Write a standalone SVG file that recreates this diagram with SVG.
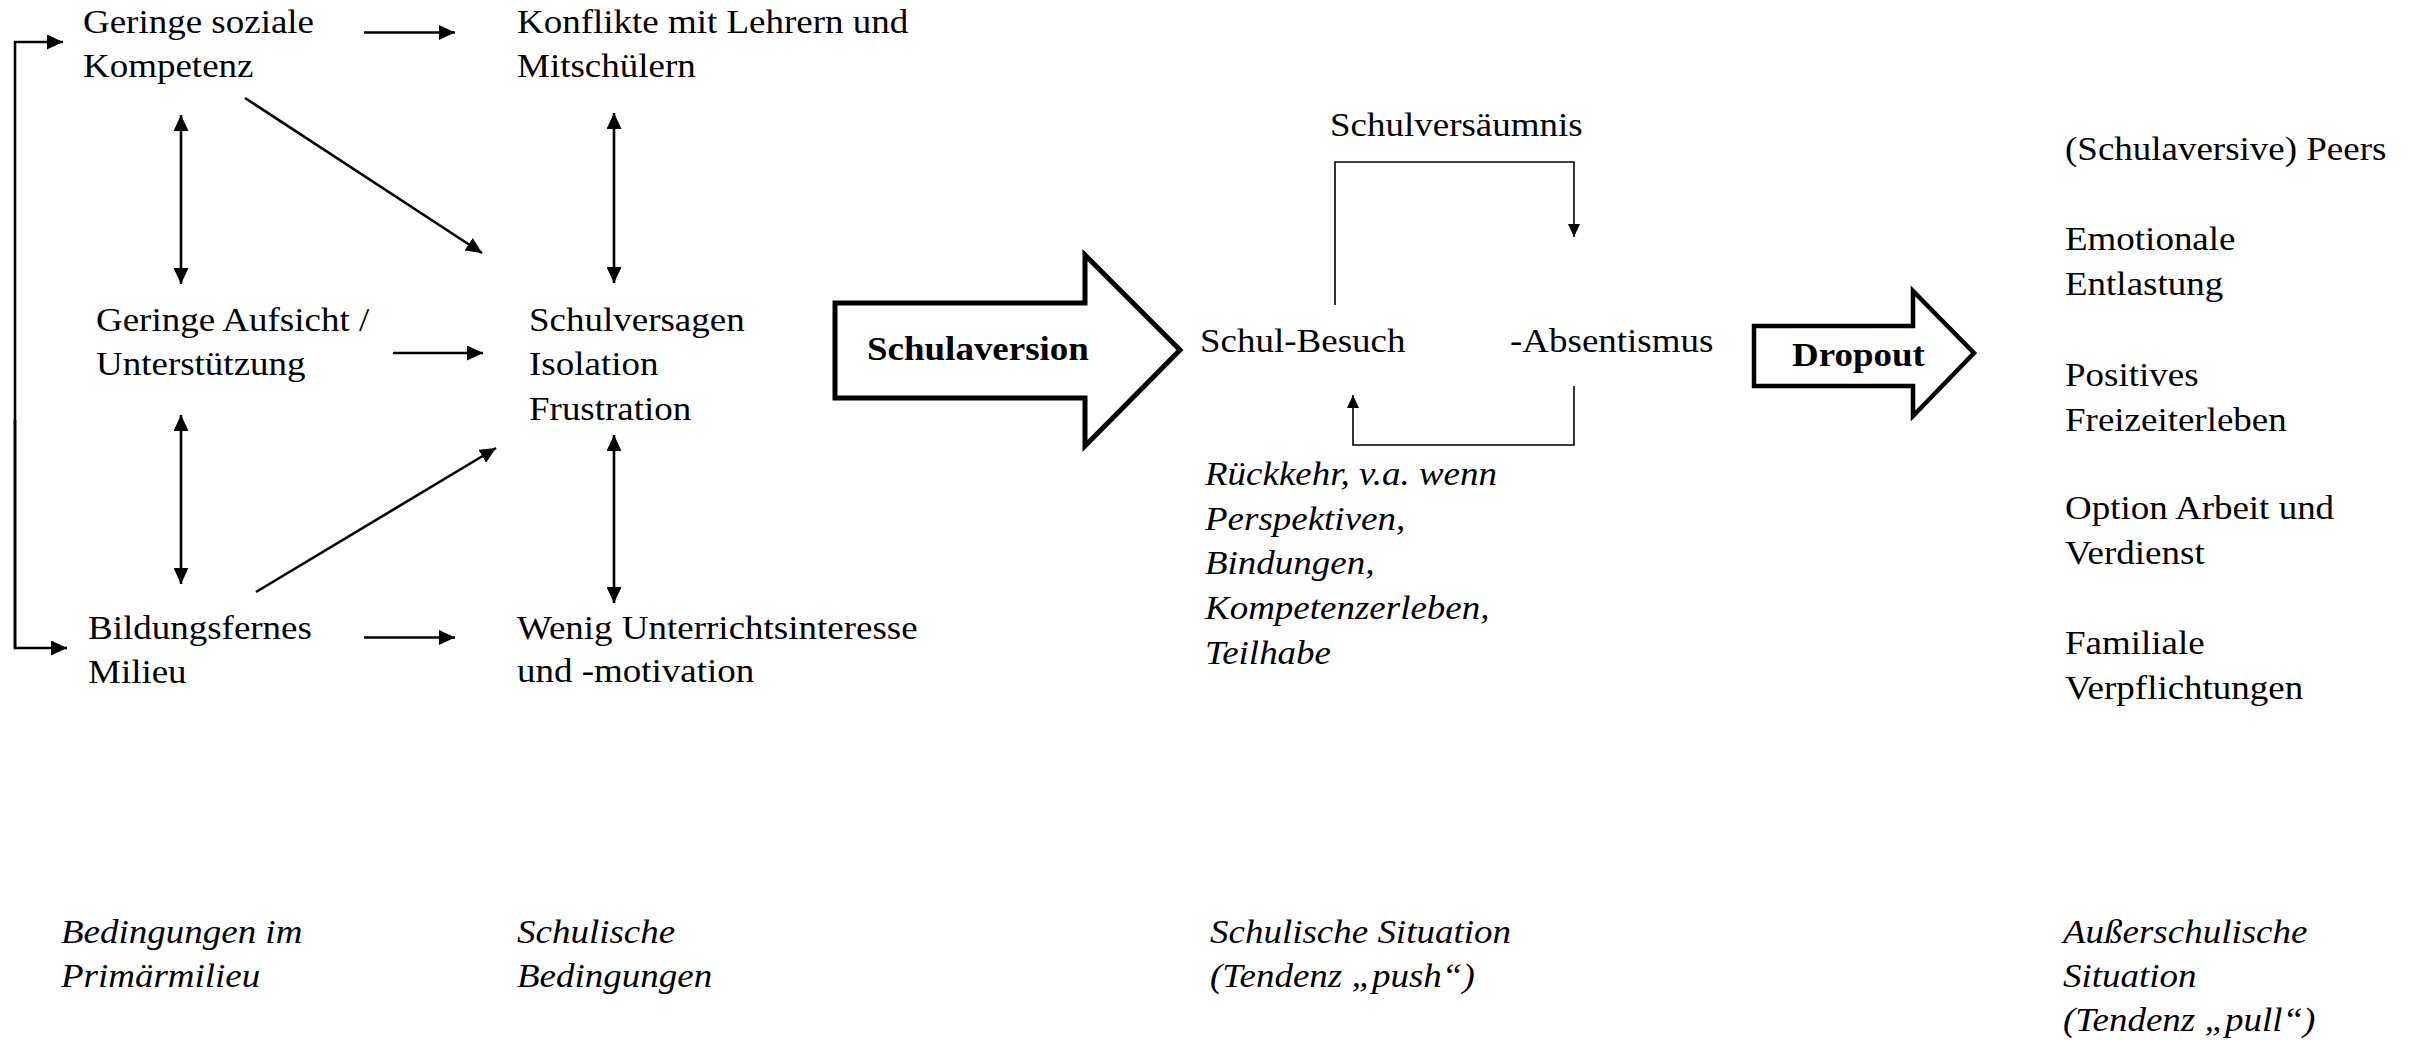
<svg xmlns="http://www.w3.org/2000/svg" width="2420" height="1040" viewBox="0 0 2420 1040">
<style>
  text { font-family: "Liberation Serif", "Times New Roman", serif; font-size: 34px; fill: #000; }
  .b { font-weight: bold; }
  .i { font-style: italic; }
  .ln { stroke: #000; stroke-width: 2.6; fill: none; }
  .thin { stroke: #000; stroke-width: 1.6; fill: none; }
  .big { stroke: #000; stroke-width: 5; fill: #fff; stroke-linejoin: miter; }
</style>
<defs>
  <marker id="ah" markerUnits="userSpaceOnUse" markerWidth="17" markerHeight="15" refX="16" refY="7.5" orient="auto-start-reverse">
    <path d="M0,0 L16,7.5 L0,15 z" fill="#000"/>
  </marker>
  <marker id="ahs" markerUnits="userSpaceOnUse" markerWidth="14" markerHeight="12" refX="13" refY="6" orient="auto-start-reverse">
    <path d="M0,0 L13,6 L0,12 z" fill="#000"/>
  </marker>
</defs>
<rect width="2420" height="1040" fill="#fff"/>

<g id="connectors">
  <path class="ln" d="M15,648 L15,42 L63,42" marker-end="url(#ah)"/>
  <path class="ln" d="M15,420 L15,648 L67,648" marker-end="url(#ah)"/>
  <line class="ln" x1="364" y1="32.5" x2="455" y2="32.5" marker-end="url(#ah)"/>
  <line class="ln" x1="245" y1="98" x2="482" y2="253" marker-end="url(#ah)"/>
  <line class="ln" x1="181" y1="115" x2="181" y2="284" marker-start="url(#ah)" marker-end="url(#ah)"/>
  <line class="ln" x1="614" y1="113" x2="614" y2="283" marker-start="url(#ah)" marker-end="url(#ah)"/>
  <line class="ln" x1="393" y1="353" x2="483" y2="353" marker-end="url(#ah)"/>
  <line class="ln" x1="181" y1="415" x2="181" y2="584" marker-start="url(#ah)" marker-end="url(#ah)"/>
  <line class="ln" x1="614" y1="435" x2="614" y2="603" marker-start="url(#ah)" marker-end="url(#ah)"/>
  <line class="ln" x1="256" y1="592" x2="496" y2="448" marker-end="url(#ah)"/>
  <line class="ln" x1="364" y1="637.5" x2="455" y2="637.5" marker-end="url(#ah)"/>
  <path class="thin" d="M1335,305 L1335,162 L1574,162 L1574,237" marker-end="url(#ahs)"/>
  <path class="thin" d="M1574,386 L1574,445 L1353,445 L1353,395" marker-end="url(#ahs)"/>
</g>

<g id="n1"><text transform="matrix(1.088 0 0 1 83 33)"><tspan x="0" y="0">Geringe soziale</tspan><tspan x="0" y="44.5">Kompetenz</tspan></text></g>
<g id="n2"><text transform="matrix(1.088 0 0 1 517 33)"><tspan x="0" y="0">Konflikte mit Lehrern und</tspan><tspan x="0" y="44.5">Mitschülern</tspan></text></g>
<g id="n3"><text transform="matrix(1.088 0 0 1 96 331)"><tspan x="0" y="0">Geringe Aufsicht /</tspan><tspan x="0" y="44.5">Unterstützung</tspan></text></g>
<g id="n4"><text transform="matrix(1.088 0 0 1 529 331)"><tspan x="0" y="0">Schulversagen</tspan><tspan x="0" y="44.5">Isolation</tspan><tspan x="0" y="89">Frustration</tspan></text></g>
<g id="n5"><text transform="matrix(1.088 0 0 1 88 639)"><tspan x="0" y="0">Bildungsfernes</tspan><tspan x="0" y="44">Milieu</tspan></text></g>
<g id="n6"><text transform="matrix(1.088 0 0 1 517 639)"><tspan x="0" y="0">Wenig Unterrichtsinteresse</tspan><tspan x="0" y="43">und -motivation</tspan></text></g>

<g id="schulaversion">
  <polygon class="big" points="835,303 1085,303 1085,255 1180,350 1085,446 1085,398 835,398"/>
  <text class="b" transform="matrix(1.088 0 0 1 867 360)">Schulaversion</text>
</g>
<g id="schulbesuch"><text transform="matrix(1.088 0 0 1 1200 352)">Schul-Besuch</text></g>
<g id="absentismus"><text transform="matrix(1.088 0 0 1 1510 352)">-Absentismus</text></g>
<g id="schulversaeumnis"><text transform="matrix(1.088 0 0 1 1330 136)">Schulversäumnis</text></g>
<g id="rueckkehr"><text class="i" transform="matrix(1.088 0 0 1 1205 485)"><tspan x="0" y="0">Rückkehr, v.a. wenn</tspan><tspan x="0" y="44.7">Perspektiven,</tspan><tspan x="0" y="89.4">Bindungen,</tspan><tspan x="0" y="134.1">Kompetenzerleben,</tspan><tspan x="0" y="178.8">Teilhabe</tspan></text></g>

<g id="dropout">
  <polygon class="big" style="stroke-width:4.5" points="1754,326 1913,326 1913,291 1974,353 1913,416 1913,386 1754,386"/>
  <text class="b" transform="matrix(1.088 0 0 1 1792 366)">Dropout</text>
</g>

<g id="peers"><text transform="matrix(1.088 0 0 1 2065 160)">(Schulaversive) Peers</text></g>
<g id="entlastung"><text transform="matrix(1.088 0 0 1 2065 250)"><tspan x="0" y="0">Emotionale</tspan><tspan x="0" y="44.7">Entlastung</tspan></text></g>
<g id="freizeit"><text transform="matrix(1.088 0 0 1 2065 386)"><tspan x="0" y="0">Positives</tspan><tspan x="0" y="44.7">Freizeiterleben</tspan></text></g>
<g id="arbeit"><text transform="matrix(1.088 0 0 1 2065 519)"><tspan x="0" y="0">Option Arbeit und</tspan><tspan x="0" y="44.7">Verdienst</tspan></text></g>
<g id="familie"><text transform="matrix(1.088 0 0 1 2065 654)"><tspan x="0" y="0">Familiale</tspan><tspan x="0" y="44.7">Verpflichtungen</tspan></text></g>

<g id="label1"><text class="i" transform="matrix(1.088 0 0 1 61 943)"><tspan x="0" y="0">Bedingungen im</tspan><tspan x="0" y="44">Primärmilieu</tspan></text></g>
<g id="label2"><text class="i" transform="matrix(1.088 0 0 1 517 943)"><tspan x="0" y="0">Schulische</tspan><tspan x="0" y="44">Bedingungen</tspan></text></g>
<g id="label3"><text class="i" transform="matrix(1.088 0 0 1 1210 943)"><tspan x="0" y="0">Schulische Situation</tspan><tspan x="0" y="44">(Tendenz „push“)</tspan></text></g>
<g id="label4"><text class="i" transform="matrix(1.088 0 0 1 2063 943)"><tspan x="0" y="0">Außerschulische</tspan><tspan x="0" y="44">Situation</tspan><tspan x="0" y="88">(Tendenz „pull“)</tspan></text></g>
</svg>
